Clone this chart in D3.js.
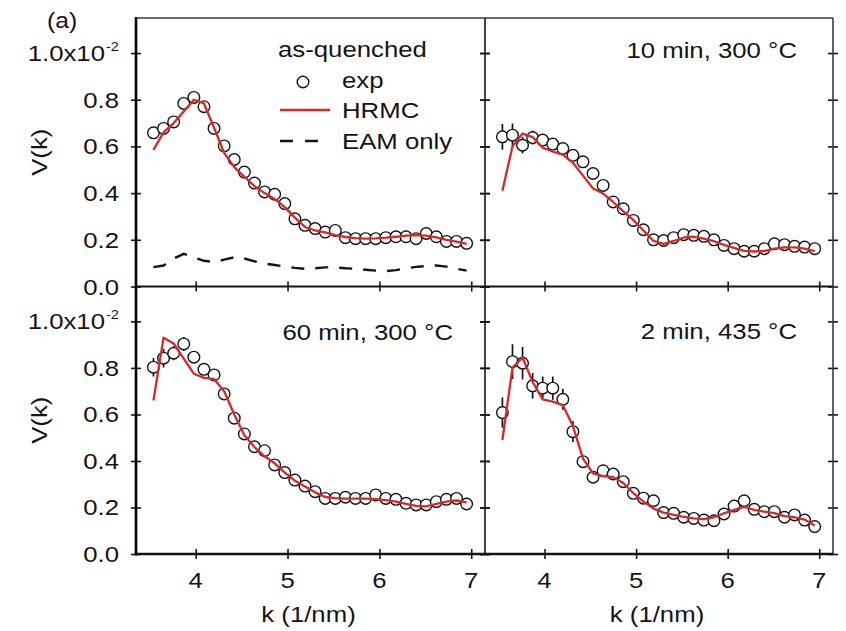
<!DOCTYPE html>
<html>
<head>
<meta charset="utf-8">
<script src="https://cdn.jsdelivr.net/npm/d3@7"></script>
<style>
  body { margin: 0; background: #fff; }
  svg { display: block; }
</style>
</head>
<body>
<svg id="chart" width="846" height="631"></svg>
<script>
// k grid shared by every panel (1/nm)
const kValues = [3.54, 3.65, 3.76, 3.87, 3.98, 4.09, 4.20, 4.31, 4.42, 4.53, 4.64, 4.75, 4.86, 4.97, 5.08, 5.19,
                 5.30, 5.41, 5.52, 5.63, 5.74, 5.85, 5.96, 6.07, 6.18, 6.29, 6.40, 6.51, 6.62, 6.73, 6.84, 6.95];

// V(k) in units of 1e-2
const expAsQuenched  = [0.658, 0.677, 0.705, 0.784, 0.810, 0.770, 0.677, 0.602, 0.544, 0.490, 0.443, 0.405, 0.395, 0.355, 0.290, 0.262,
                        0.248, 0.233, 0.240, 0.209, 0.205, 0.205, 0.205, 0.209, 0.213, 0.213, 0.205, 0.227, 0.213, 0.193, 0.193, 0.185];
const hrmcAsQuenched = [0.585, 0.660, 0.700, 0.750, 0.800, 0.784, 0.680, 0.572, 0.511, 0.470, 0.430, 0.400, 0.375, 0.340, 0.295, 0.255,
                        0.240, 0.232, 0.220, 0.212, 0.207, 0.205, 0.206, 0.209, 0.213, 0.218, 0.220, 0.218, 0.210, 0.200, 0.192, 0.183];
const eamAsQuenched  = [0.083, 0.090, 0.120, 0.140, 0.125, 0.110, 0.105, 0.115, 0.125, 0.120, 0.108, 0.098, 0.092, 0.086, 0.080, 0.076,
                        0.078, 0.082, 0.082, 0.078, 0.076, 0.072, 0.068, 0.066, 0.070, 0.078, 0.084, 0.088, 0.090, 0.085, 0.076, 0.068];
const errAsQuenched  = [0.010, 0.010, 0.010, 0.010, 0.010, 0.010, 0.010, 0.010, 0.010, 0.010, 0.010, 0.010, 0.010, 0.010, 0.010, 0.010,
                        0.010, 0.010, 0.010, 0.010, 0.010, 0.010, 0.010, 0.010, 0.010, 0.010, 0.010, 0.010, 0.010, 0.010, 0.010, 0.010];

const exp10min  = [0.641, 0.648, 0.605, 0.638, 0.627, 0.610, 0.591, 0.562, 0.534, 0.484, 0.433, 0.362, 0.333, 0.283, 0.243, 0.200,
                   0.197, 0.209, 0.222, 0.219, 0.215, 0.200, 0.176, 0.162, 0.151, 0.151, 0.162, 0.183, 0.179, 0.172, 0.169, 0.162];
const hrmc10min = [0.410, 0.600, 0.655, 0.640, 0.595, 0.578, 0.565, 0.530, 0.475, 0.420, 0.398, 0.362, 0.322, 0.285, 0.240, 0.195,
                   0.183, 0.195, 0.210, 0.213, 0.205, 0.194, 0.178, 0.165, 0.153, 0.150, 0.152, 0.162, 0.168, 0.168, 0.162, 0.152];
const err10min  = [0.055, 0.050, 0.035, 0.030, 0.025, 0.020, 0.020, 0.015, 0.010, 0.010, 0.010, 0.010, 0.010, 0.010, 0.010, 0.010,
                   0.010, 0.010, 0.010, 0.010, 0.010, 0.010, 0.010, 0.010, 0.010, 0.010, 0.010, 0.010, 0.010, 0.010, 0.010, 0.010];

const exp60min  = [0.803, 0.842, 0.863, 0.903, 0.846, 0.794, 0.770, 0.688, 0.584, 0.516, 0.461, 0.444, 0.383, 0.350, 0.318, 0.292,
                   0.268, 0.239, 0.239, 0.244, 0.239, 0.239, 0.254, 0.239, 0.235, 0.218, 0.211, 0.211, 0.225, 0.235, 0.239, 0.215];
const hrmc60min = [0.660, 0.930, 0.905, 0.840, 0.775, 0.757, 0.752, 0.700, 0.600, 0.510, 0.460, 0.420, 0.390, 0.350, 0.315, 0.290,
                   0.265, 0.245, 0.240, 0.238, 0.238, 0.238, 0.236, 0.232, 0.225, 0.215, 0.207, 0.205, 0.215, 0.225, 0.230, 0.222];
const err60min  = [0.040, 0.040, 0.030, 0.030, 0.025, 0.020, 0.020, 0.015, 0.010, 0.010, 0.010, 0.010, 0.010, 0.010, 0.010, 0.010,
                   0.010, 0.010, 0.010, 0.010, 0.010, 0.010, 0.010, 0.010, 0.010, 0.010, 0.010, 0.010, 0.010, 0.010, 0.010, 0.010];

const exp2min  = [0.608, 0.827, 0.820, 0.723, 0.713, 0.713, 0.665, 0.526, 0.397, 0.330, 0.358, 0.344, 0.311, 0.261, 0.240, 0.229,
                  0.178, 0.175, 0.158, 0.153, 0.146, 0.143, 0.172, 0.206, 0.229, 0.192, 0.182, 0.182, 0.158, 0.168, 0.146, 0.118];
const hrmc2min = [0.490, 0.800, 0.845, 0.740, 0.665, 0.655, 0.640, 0.550, 0.410, 0.347, 0.335, 0.330, 0.305, 0.262, 0.225, 0.195,
                  0.178, 0.168, 0.160, 0.153, 0.150, 0.158, 0.175, 0.190, 0.203, 0.190, 0.182, 0.176, 0.163, 0.158, 0.148, 0.123];
const err2min  = [0.065, 0.075, 0.070, 0.055, 0.050, 0.050, 0.045, 0.045, 0.020, 0.010, 0.010, 0.010, 0.010, 0.010, 0.010, 0.010,
                  0.010, 0.010, 0.010, 0.010, 0.010, 0.010, 0.010, 0.010, 0.010, 0.010, 0.010, 0.010, 0.010, 0.010, 0.010, 0.010];

const xTicks = [4, 5, 6, 7];
const yTicks = [0, 0.2, 0.4, 0.6, 0.8, 1.0];
const yTickLabels = ["0.0", "0.2", "0.4", "0.6", "0.8", "1.0x10"];
const yExponent = "-2";
const panelTitles = ["as-quenched", "10 min, 300 °C", "60 min, 300 °C", "2 min, 435 °C"];
const legendLabels = ["exp", "HRMC", "EAM only"];
const xAxisTitle = "k (1/nm)";
const yAxisTitle = "V(k)";
const figureTag = "(a)";

// ---- layout -------------------------------------------------------------
const svg = d3.select("#chart");
const FONT = "'Liberation Sans', Arial, Helvetica, sans-serif";
const STRETCH = 1.12;
const INK = "#141414";
const RED = "#d42a2a";
const R = 5.8;
const colX = [[136, 485], [485, 833]];
const rowY = [[18, 286.5], [286.5, 554]];
const kDomain = [3.35, 7.15];
const vDomain = [0, 1.15];

const xScales = colX.map(r => d3.scaleLinear().domain(kDomain).range(r));
const yScales = rowY.map(r => d3.scaleLinear().domain(vDomain).range([r[1], r[0]]));

function addText(parent, str, x, y, opt = {}) {
  const size = opt.size || 23;
  const rot = opt.rotate ? ` rotate(${opt.rotate})` : "";
  return parent.append("text")
    .attr("transform", `translate(${x},${y})${rot} scale(${STRETCH},1)`)
    .attr("text-anchor", opt.anchor || "start")
    .attr("font-family", FONT)
    .attr("font-size", size)
    .attr("fill", INK)
    .text(str);
}

const panels = [
  { row: 0, col: 0, exp: expAsQuenched, hrmc: hrmcAsQuenched, eam: eamAsQuenched, err: errAsQuenched, title: panelTitles[0] },
  { row: 0, col: 1, exp: exp10min, hrmc: hrmc10min, err: err10min, title: panelTitles[1], tx: 797, ty: 58 },
  { row: 1, col: 0, exp: exp60min, hrmc: hrmc60min, err: err60min, title: panelTitles[2], tx: 453, ty: 340 },
  { row: 1, col: 1, exp: exp2min, hrmc: hrmc2min, err: err2min, title: panelTitles[3], tx: 797, ty: 339 }
];

const marks = svg.append("g");

panels.forEach(p => {
  const x = xScales[p.col], y = yScales[p.row];
  const g = marks.append("g");
  const pts = kValues.map((k, i) => ({ k, v: p.exp[i], e: p.err[i] }));

  // error bars
  g.selectAll("line.err").data(pts).join("line")
    .attr("x1", d => x(d.k)).attr("x2", d => x(d.k))
    .attr("y1", d => y(d.v - d.e)).attr("y2", d => y(d.v + d.e))
    .attr("stroke", INK).attr("stroke-width", 1.7);

  // EAM-only curve
  if (p.eam) {
    g.append("path")
      .datum(kValues.map((k, i) => [k, p.eam[i]]))
      .attr("d", d3.line().x(d => x(d[0])).y(d => y(d[1])))
      .attr("fill", "none").attr("stroke", INK).attr("stroke-width", 2.4)
      .attr("stroke-dasharray", "13 11");
  }

  // experimental points
  g.selectAll("circle").data(pts).join("circle")
    .attr("cx", d => x(d.k)).attr("cy", d => y(d.v)).attr("r", R)
    .attr("fill", "#fff").attr("stroke", INK).attr("stroke-width", 1.4);

  // HRMC fit
  g.append("path")
    .datum(kValues.map((k, i) => [k, p.hrmc[i]]))
    .attr("d", d3.line().x(d => x(d[0])).y(d => y(d[1])))
    .attr("fill", "none").attr("stroke", RED).attr("stroke-width", 2.3)
    .attr("stroke-linejoin", "round");

  // ticks crossing each frame edge
  const tickStyle = sel => {
    sel.select(".domain").remove();
    sel.selectAll(".tick line").attr("stroke", INK).attr("stroke-width", 1.6);
    sel.selectAll(".tick text").remove();
  };
  const [x0, x1] = colX[p.col], [y0, y1] = rowY[p.row];
  [x0, x1].forEach(xe => {
    g.append("g").attr("transform", `translate(${xe},0)`)
      .call(d3.axisLeft(y).tickValues(yTicks).tickSize(5)).call(tickStyle);
    g.append("g").attr("transform", `translate(${xe},0)`)
      .call(d3.axisRight(y).tickValues(yTicks).tickSize(5)).call(tickStyle);
  });
  g.append("g").attr("transform", `translate(0,${y1})`)
    .call(d3.axisBottom(x).tickValues(xTicks).tickSize(5)).call(tickStyle);
  g.append("g").attr("transform", `translate(0,${y1})`)
    .call(d3.axisTop(x).tickValues(xTicks).tickSize(5)).call(tickStyle);

  // panel label
  if (p.tx !== undefined) addText(svg, p.title, p.tx, p.ty, { anchor: "end" });

  // y tick labels on the left column
  if (p.col === 0) {
    yTicks.forEach((t, i) => {
      if (i === yTicks.length - 1) {
        addText(svg, yTickLabels[i], 105, y(t) + 8, { anchor: "end" });
        addText(svg, yExponent, 106, y(t) - 2, { size: 13 });
      } else {
        addText(svg, yTickLabels[i], 119, y(t) + 8, { anchor: "end" });
      }
    });
    addText(svg, yAxisTitle, 47, (y0 + y1) / 2, { anchor: "middle", rotate: -90 });
  }

  // x tick labels on the bottom row
  if (p.row === 1) {
    xTicks.forEach(t => addText(svg, String(t), x(t), y1 + 34, { anchor: "middle" }));
    addText(svg, xAxisTitle, (x0 + x1) / 2 - 2, 622, { anchor: "middle" });
  }
});

// frame
const frame = svg.append("g").attr("fill", "none");
frame.append("line").attr("x1", 136).attr("x2", 833).attr("y1", 18).attr("y2", 18)
  .attr("stroke", "#3a3a3a").attr("stroke-width", 1.6);
frame.append("line").attr("x1", 833).attr("x2", 833).attr("y1", 18).attr("y2", 554)
  .attr("stroke", "#3a3a3a").attr("stroke-width", 1.6);
frame.append("line").attr("x1", 136).attr("x2", 833).attr("y1", 286.5).attr("y2", 286.5)
  .attr("stroke", INK).attr("stroke-width", 1.8);
frame.append("line").attr("x1", 485).attr("x2", 485).attr("y1", 18).attr("y2", 554)
  .attr("stroke", INK).attr("stroke-width", 1.6);
frame.append("line").attr("x1", 134.8).attr("x2", 833).attr("y1", 554).attr("y2", 554)
  .attr("stroke", INK).attr("stroke-width", 2.4);
frame.append("line").attr("x1", 136).attr("x2", 136).attr("y1", 17).attr("y2", 555.2)
  .attr("stroke", "#000").attr("stroke-width", 2.6);

// legend (as-quenched panel)
const lg = svg.append("g");
addText(lg, panelTitles[0], 278, 57);
lg.append("circle").attr("cx", 303).attr("cy", 82).attr("r", R)
  .attr("fill", "#fff").attr("stroke", INK).attr("stroke-width", 1.4);
addText(lg, legendLabels[0], 342, 88);
lg.append("line").attr("x1", 280).attr("x2", 330).attr("y1", 110).attr("y2", 110)
  .attr("stroke", RED).attr("stroke-width", 2.3);
addText(lg, legendLabels[1], 342, 118);
lg.append("line").attr("x1", 280).attr("x2", 318).attr("y1", 141).attr("y2", 141)
  .attr("stroke", INK).attr("stroke-width", 2.4).attr("stroke-dasharray", "13 12");
addText(lg, legendLabels[2], 342, 149);

// figure tag
addText(svg, figureTag, 47, 28, { size: 22 });
</script>
</body>
</html>
